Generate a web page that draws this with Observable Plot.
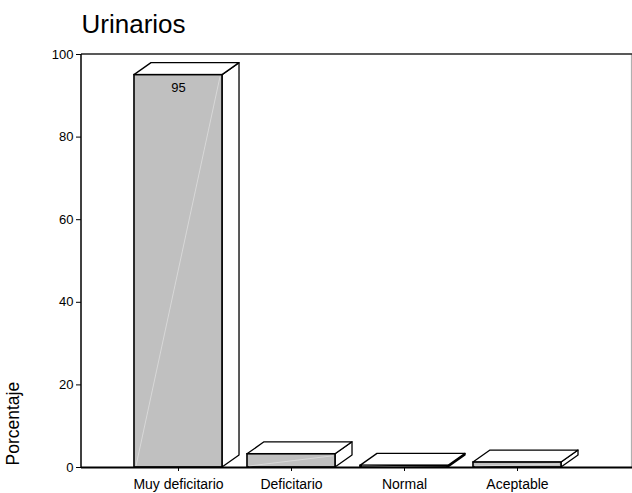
<!DOCTYPE html>
<html>
<head>
<meta charset="utf-8">
<script src="https://cdn.jsdelivr.net/npm/d3@7"></script>
<script src="https://cdn.jsdelivr.net/npm/@observablehq/plot@0.6"></script>
<style>
  html, body { margin: 0; padding: 0; background: #fff; }
  #chart svg { display: block; }
</style>
</head>
<body>
<div id="chart"></div>
<script>
const title = "Urinarios";
const yLabel = "Porcentaje";
const categories = ["Muy deficitario", "Deficitario", "Normal", "Aceptable"];
const values = [95, 3.2, 0.4, 1.2];
const valueLabels = ["95", "", "", ""];
const yTicks = [0, 20, 40, 60, 80, 100];

const data = categories.map((c, i) => ({cat: c, value: values[i], label: valueLabels[i]}));

const DEPTH_X = 17, DEPTH_Y = -12;
const FONT = "'Liberation Sans', Arial, Helvetica, sans-serif";
const X_RANGE = [121.5, 573.5], PAD_IN = 0.221, PAD_OUT = 0.1105;

// 3D boxes drawn from the scales
function boxes(index, scales, vals, dims) {
  const g = d3.create("svg:g");
  const x = scales.x, y = scales.y;
  const ref = d3.scaleBand(categories, X_RANGE).paddingInner(PAD_IN).paddingOuter(PAD_OUT);
  let bw = scales.scales && scales.scales.x && scales.scales.x.bandwidth;
  if (!bw) bw = ref.bandwidth();
  for (const d of data) {
    const px = x(d.cat);
    const x1 = Math.abs(px - ref(d.cat)) < 1 ? px : px - bw / 2;
    const x2 = x1 + bw, y0 = y(0), yv = y(d.value);
    // right face
    g.append("path")
      .attr("d", `M${x2},${yv}L${x2 + DEPTH_X},${yv + DEPTH_Y}L${x2 + DEPTH_X},${y0 + DEPTH_Y}L${x2},${y0}Z`)
      .attr("fill", "white").attr("stroke", "black").attr("stroke-width", 1.3).attr("stroke-linejoin", "round");
    // top face
    g.append("path")
      .attr("d", `M${x1},${yv}L${x1 + DEPTH_X},${yv + DEPTH_Y}L${x2 + DEPTH_X},${yv + DEPTH_Y}L${x2},${yv}Z`)
      .attr("fill", "white").attr("stroke", "black").attr("stroke-width", 1.3).attr("stroke-linejoin", "round");
    // front face
    g.append("rect")
      .attr("x", x1).attr("y", yv).attr("width", bw).attr("height", Math.max(0, y0 - yv))
      .attr("fill", "#c0c0c0").attr("stroke", "black").attr("stroke-width", 1.6);
    // faint highlight diagonal
    g.append("line")
      .attr("x1", x1 + 2).attr("y1", y0 - 1).attr("x2", x2 - 2).attr("y2", yv + 2)
      .attr("stroke", "#e6e6e6").attr("stroke-width", 0.8).attr("opacity", 0.8);
  }
  return g.node();
}

// frame lines (left axis line, top line, right line)
function frameLines(index, scales, vals, dims) {
  const g = d3.create("svg:g");
  const L = dims.marginLeft, R = dims.width - dims.marginRight;
  const T = dims.marginTop, B = dims.height - dims.marginBottom;
  g.append("line").attr("x1", R - 0.5).attr("x2", R - 0.5).attr("y1", T).attr("y2", B)
    .attr("stroke", "#b0b0b0").attr("stroke-width", 1.2);
  g.append("line").attr("x1", L).attr("x2", R).attr("y1", T).attr("y2", T)
    .attr("stroke", "#222").attr("stroke-width", 1.5);
  g.append("line").attr("x1", L).attr("x2", L).attr("y1", T).attr("y2", B + 1)
    .attr("stroke", "black").attr("stroke-width", 1.5);
  return g.node();
}

const chart = Plot.plot({
  width: 632,
  height: 493,
  marginTop: 54,
  marginBottom: 26,
  marginLeft: 81,
  marginRight: 0,
  style: {fontFamily: FONT, fontSize: "12px", color: "black", background: "white"},
  x: {domain: categories, range: X_RANGE, paddingInner: PAD_IN, paddingOuter: PAD_OUT, axis: null},
  y: {domain: [0, 100], axis: null},
  marks: [
    frameLines,
    boxes,
    Plot.ruleY([0], {stroke: "black", strokeWidth: 2}),
    Plot.axisY(yTicks, {tickSize: 5, tickPadding: 3, fontSize: 13, label: null, stroke: "black"}),
    Plot.axisX(categories, {tickSize: 4, tickPadding: 8, fontSize: 14, label: null, stroke: "black"}),
    Plot.text(data.filter(d => d.label), {x: "cat", y: "value", text: "label", dy: 13, fontSize: 13, fill: "black"}),
    Plot.text([yLabel], {frameAnchor: "bottom-left", rotate: -90, textAnchor: "start", dx: -63, dy: -2, fontSize: 17.5, fill: "black"}),
    Plot.text([title], {frameAnchor: "top-left", textAnchor: "start", lineAnchor: "bottom", dx: 0, dy: -22, fontSize: 26, fill: "black"})
  ]
});

document.getElementById("chart").appendChild(chart);
</script>
</body>
</html>
